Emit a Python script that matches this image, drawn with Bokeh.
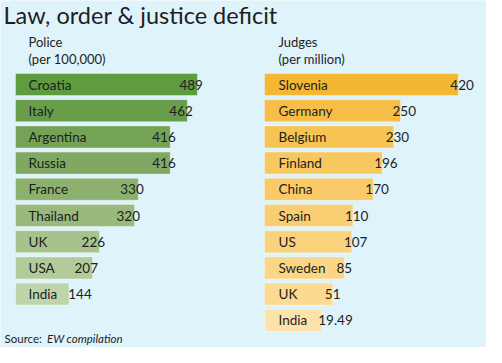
from bokeh.plotting import figure
from bokeh.models import Range1d, ColumnDataSource
from bokeh.core.properties import value
from bokeh.embed import file_html
from bokeh.resources import INLINE

# ---------------- data ----------------
title_text = "Law, order & justice deficit"
police_title = "Police"
police_unit = "(per 100,000)"
judges_title = "Judges"
judges_unit = "(per million)"
source_label = "Source:"
source_name = "EW compilation"

police_countries = ["Croatia", "Italy", "Argentina", "Russia", "France",
                    "Thailand", "UK", "USA", "India"]
police_values = [489, 462, 416, 416, 330, 320, 226, 207, 144]

judges_countries = ["Slovenia", "Germany", "Belgium", "Finland", "China",
                    "Spain", "US", "Sweden", "UK", "India"]
judges_values = [420, 250, 230, 196, 170, 110, 107, 85, 51, 19.49]

# ---------------- styles ----------------
BG = "#dff3fb"
TXT = "#1e1e1e"
FONT = value("Lato")
police_colors = ["#5f9b3f", "#689d4a", "#74a356", "#7fa963", "#8cb16f",
                 "#99b97d", "#a6c38c", "#b3cb9b", "#c0d4ab"]
judges_colors = ["#f4b733", "#f6be47", "#f7c353", "#f8c75e", "#f9ca67",
                 "#f9ce72", "#fad27c", "#fbd686", "#fcda92", "#fde2aa"]

W, H = 486, 347
ROW0 = 84.0       # pixel centre of first row
PITCH = 26.2      # pixels per row
P_LEFT = 15.0     # pixel of police baseline
P_K = 0.372       # pixels per police unit
J_LEFT = 264.0    # pixel of judges baseline
J_BASE = -150.0   # judges axis starts here (as in the original graphic)
J_K = 0.34        # pixels per judges unit
NAME_PX_P = 28.0
NAME_PX_J = 278.0
ROW_FS = 13.5


def shift(size):
    # empirical correction between requested and rendered baseline
    return 0.3 * size + 1.5


BASE_DY = (5.7 - shift(ROW_FS)) / PITCH

p = figure(width=W, height=H, x_range=Range1d(0, W), y_range=Range1d(H, 0),
           output_backend="svg", toolbar_location=None, min_border=0,
           x_axis_location=None, y_axis_location=None)
p.grid.visible = False
p.outline_line_color = None
p.background_fill_color = BG
p.border_fill_color = BG

p.extra_x_ranges = {
    "police": Range1d(-P_LEFT / P_K, (W - P_LEFT) / P_K),
    "judges": Range1d(J_BASE - J_LEFT / J_K, J_BASE + (W - J_LEFT) / J_K),
}
p.extra_y_ranges = {"rows": Range1d((H - ROW0) / PITCH, -ROW0 / PITCH)}


def char_w(s, size=ROW_FS):
    return len(s) * 0.47 * size


def panel(countries, values, colors, xr, base, name_px, k, left_px, default_off):
    n = len(countries)
    rows = list(range(n))
    offs = []
    for c, v in zip(countries, values):
        bar_px = (v - base) * k
        name_end = name_px + char_w(c) + 8
        off = default_off
        if left_px + bar_px + off < name_end:
            off = name_end - (left_px + bar_px)
        offs.append(off)
    src = ColumnDataSource(dict(
        y=rows, yt=[r + BASE_DY for r in rows], v=values,
        left=[base] * n, c=colors, name=countries,
        lab=[f"{x:g}" for x in values], off=offs,
        nx=[name_px] * n,
    ))
    p.hbar(y="y", left="left", right="v", height=0.84, fill_color="c",
           line_color="white", line_alpha=0.35, line_width=1, source=src,
           x_range_name=xr, y_range_name="rows")
    p.text(x="nx", y="yt", text="name", source=src, y_range_name="rows",
           text_font=FONT, text_font_size=value(f"{ROW_FS}px"), text_color=TXT,
           text_baseline="alphabetic", text_align="left")
    p.text(x="v", y="yt", text="lab", x_offset="off", source=src,
           x_range_name=xr, y_range_name="rows",
           text_font=FONT, text_font_size=value(f"{ROW_FS}px"), text_color=TXT,
           text_baseline="alphabetic", text_align="left")


panel(police_countries, police_values, police_colors, "police", 0,
      NAME_PX_P, P_K, P_LEFT, -18)
panel(judges_countries, judges_values, judges_colors, "judges", J_BASE,
      NAME_PX_J, J_K, J_LEFT, -8)


def label(x, y, t, size, style="normal"):
    p.text(x=[x], y=[y - shift(size)], text=[t], text_font=FONT,
           text_font_size=value(f"{size}px"), text_color=TXT,
           text_font_style=style, text_baseline="alphabetic",
           text_align="left")


label(3, 23.5, title_text, 23.5)
label(NAME_PX_P, 47, police_title, 13)
label(NAME_PX_P, 63.5, police_unit, 13)
label(NAME_PX_J, 47, judges_title, 13)
label(NAME_PX_J, 63.5, judges_unit, 13)
label(4, 343.2, source_label, 11.5)
label(46.5, 343.2, source_name, 11.5, "italic")

open("out.html", "w").write(file_html(p, INLINE))
